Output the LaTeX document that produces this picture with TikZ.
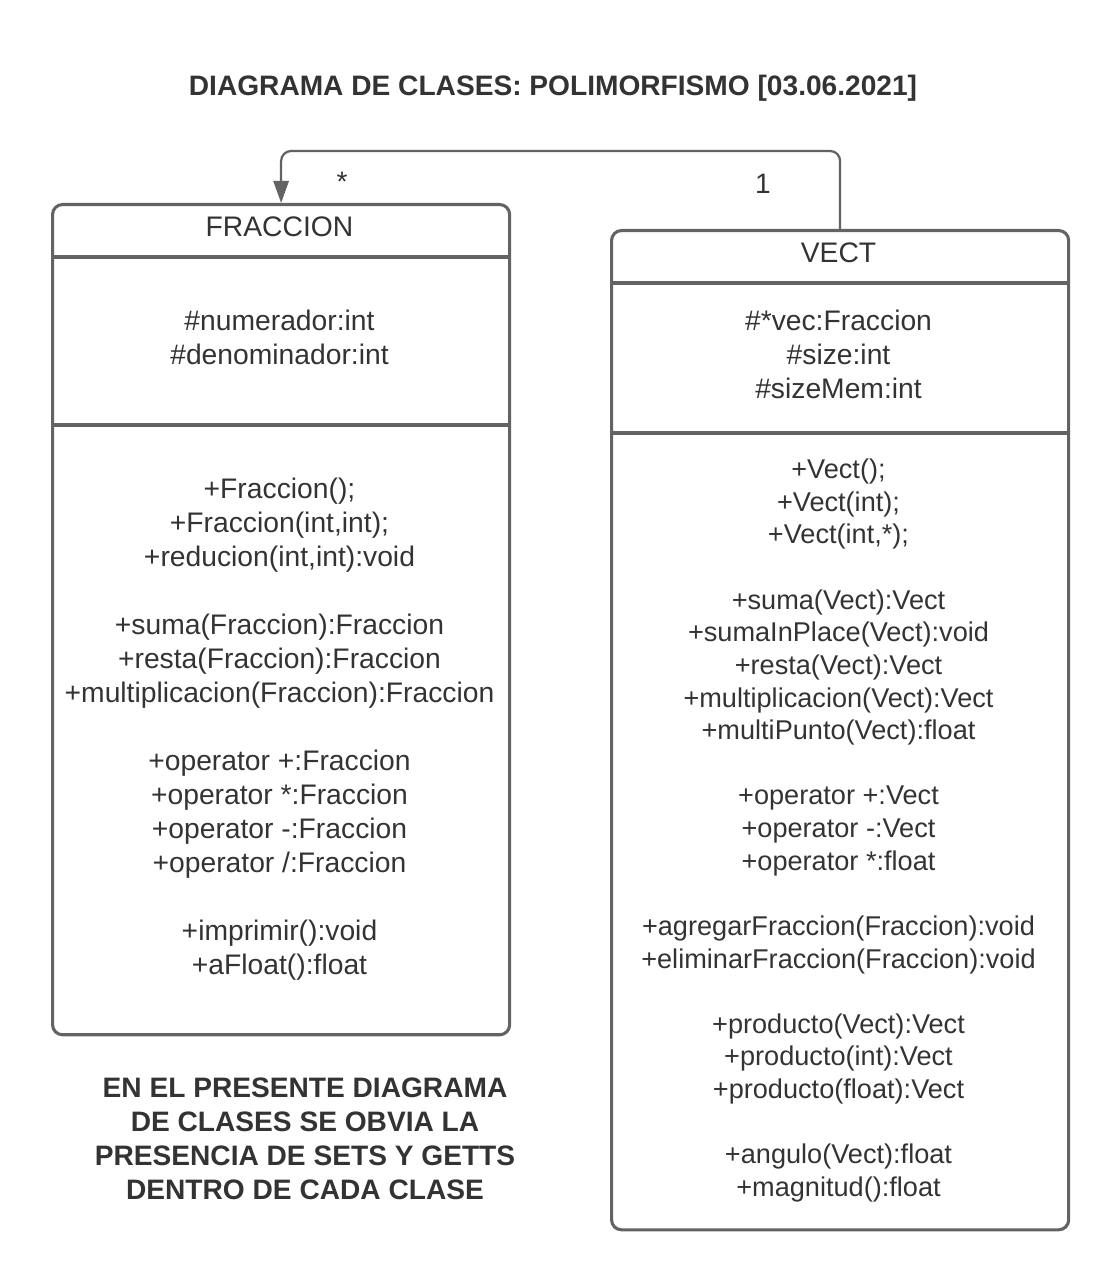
\documentclass[tikz,border=0pt]{standalone}
\usepackage{fontspec}
\setmainfont{Liberation Sans}
\usepackage{xcolor}
\usetikzlibrary{arrows.meta, positioning}
\definecolor{umlgray}{HTML}{636363}
\definecolor{umltext}{HTML}{333333}
\tikzset{
  classbox/.style={draw=umlgray,line width=2.2pt,rounded corners=2.5mm,inner sep=0pt,anchor=north west},
  classline/.style={draw=umlgray,line width=2.2pt},
  classtxt/.style={text=umltext,align=center,inner sep=0pt,font=\fontsize{20.1}{24.2}\selectfont},
  methtxt/.style={classtxt,font=\fontsize{19.3}{23.2}\selectfont},
  headtxt/.style={text=umltext,align=center,inner sep=0pt,font=\bfseries\fontsize{20}{24.2}\selectfont},
  multtxt/.style={text=umltext,inner sep=0pt,font=\fontsize{20}{24}\selectfont},
  assoc/.style={-{Triangle[length=5.5mm,width=3.8mm]},draw=umlgray,line width=1.6pt,rounded corners=2.5mm},
}

\begin{document}
\begin{tikzpicture}[x=0.025cm,y=-0.025cm]
  \useasboundingbox (0,0) rectangle (1119,1280);
  \node[headtxt] (title) at (553,88) {DIAGRAMA DE CLASES: POLIMORFISMO [03.06.2021]};
  % clases
  \node[classbox,minimum width=11.425cm,minimum height=20.75cm] (fraccion) at (51,203) {};
  \node[classbox,minimum width=11.425cm,minimum height=24.975cm] (vect) at (610,229) {};
  \draw[classline] (fraccion.west |- 0,257) -- (fraccion.east |- 0,257);
  \draw[classline] (fraccion.west |- 0,425) -- (fraccion.east |- 0,425);
  \draw[classline] (vect.west |- 0,283) -- (vect.east |- 0,283);
  \draw[classline] (vect.west |- 0,433) -- (vect.east |- 0,433);
  \node[classtxt] (fracName) at (279.5,227) {FRACCION};
  \node[classtxt] (vectName) at (838.5,253) {VECT};
  \node[classtxt] (fracAttr) at (279.5,337.5) {\#numerador:int\\\#denominador:int};
  \node[classtxt] (vectAttr) at (838.5,354) {\#*vec:Fraccion\\\#size:int\\\#sizeMem:int};
  \node[classtxt] (fracMeth) at (279.5,729) {+Fraccion();\\+Fraccion(int,int);\\+reducion(int,int):void\\[24.2pt]
    +suma(Fraccion):Fraccion\\+resta(Fraccion):Fraccion\\+multiplicacion(Fraccion):Fraccion\\[24.2pt]
    +operator +:Fraccion\\+operator *:Fraccion\\+operator -:Fraccion\\+operator /:Fraccion\\[24.2pt]
    +imprimir():void\\+aFloat():float};
  \node[methtxt] (vectMeth) at (838.5,830.5) {+Vect();\\+Vect(int);\\+Vect(int,*);\\[23.2pt]
    +suma(Vect):Vect\\+sumaInPlace(Vect):void\\+resta(Vect):Vect\\+multiplicacion(Vect):Vect\\+multiPunto(Vect):float\\[23.2pt]
    +operator +:Vect\\+operator -:Vect\\+operator *:float\\[23.2pt]
    +agregarFraccion(Fraccion):void\\+eliminarFraccion(Fraccion):void\\[23.2pt]
    +producto(Vect):Vect\\+producto(int):Vect\\+producto(float):Vect\\[23.2pt]
    +angulo(Vect):float\\+magnitud():float};
  % relacion
  \draw[assoc] (vect.north) -- ++(0,-78) -| (fraccion.north);
  \node[multtxt] (multMany) at (342,182) {*};
  \node[multtxt] (multOne) at (763,184) {1};
  \node[headtxt] (note) at (305,1139) {EN EL PRESENTE DIAGRAMA\\DE CLASES SE OBVIA LA\\PRESENCIA DE SETS Y GETTS\\DENTRO DE CADA CLASE};
\end{tikzpicture}
\end{document}
